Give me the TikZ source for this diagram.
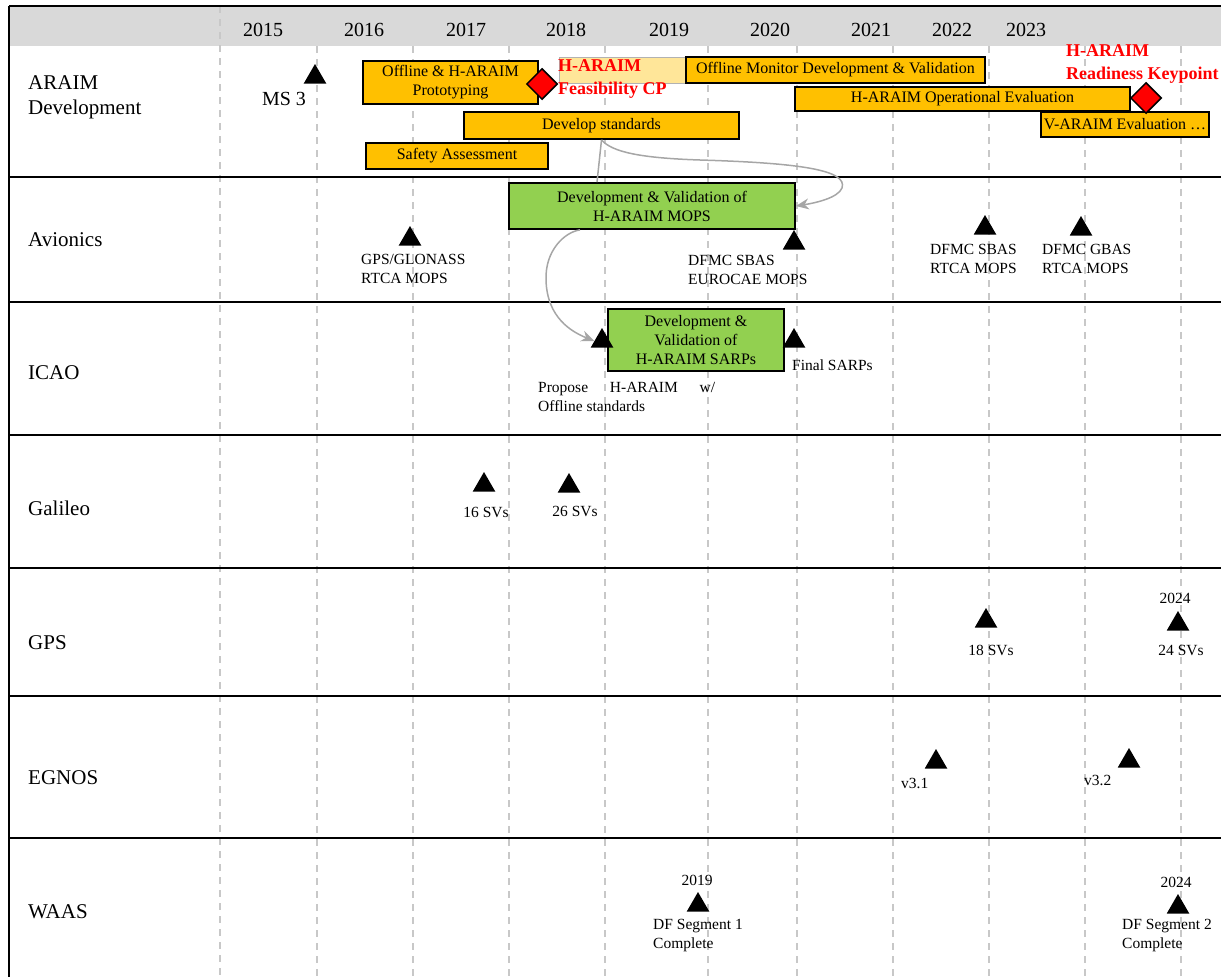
\documentclass[tikz,border=0pt]{standalone}
\usepackage{fontspec}
\setmainfont{Liberation Serif}
\usetikzlibrary{shapes.geometric, arrows.meta, positioning}

\definecolor{barorange}{HTML}{FFC000}
\definecolor{bargreen}{HTML}{92D050}
\definecolor{lightbar}{HTML}{FFE699}
\definecolor{headgray}{HTML}{D9D9D9}
\definecolor{gridgray}{HTML}{C8C8C8}
\definecolor{arrowgray}{HTML}{A6A6A6}

\begin{document}
\begin{tikzpicture}[x=1pt, y=-1pt,
    bar/.style={draw=black, line width=1.8pt, fill=barorange, inner sep=1pt,
        align=center, font=\fontsize{16}{19}\selectfont},
    greenbar/.style={bar, fill=bargreen},
    mstone/.style={regular polygon, regular polygon sides=3, fill=black,
        inner sep=0pt, minimum size=26pt},
    keypt/.style={diamond, aspect=1, draw=black, line width=1.5pt, fill=red,
        inner sep=0pt, minimum width=31pt, minimum height=31pt},
    note/.style={inner sep=0pt, align=left, font=\fontsize{15.5}{19}\selectfont},
    rowname/.style={anchor=west, inner sep=0pt, align=left,
        font=\fontsize{21}{25}\selectfont},
    yearlbl/.style={inner sep=0pt, font=\fontsize{20}{24}\selectfont},
    redtext/.style={anchor=west, inner sep=0pt, align=left, text=red,
        font=\bfseries\fontsize{18}{23}\selectfont},
    linkline/.style={draw=arrowgray, line width=1.5pt},
    link/.style={linkline, -{Stealth[length=13pt, width=11pt]}}
    ]
    \useasboundingbox (0,0) rectangle (1221,977);
    \clip (0,0) rectangle (1221,977);

    % Header
    \fill[headgray] (10,6) rectangle (1221,46);
    \draw[gridgray, line width=1.2pt, dash pattern=on 7pt off 6pt] (220,6) -- (220,977);
    \foreach \x in {317,413,509,605,708,797,893,989,1085,1181}
        \draw[gridgray, line width=1.2pt, dash pattern=on 7pt off 6pt] (\x,46) -- (\x,977);
    \foreach \x/\yr in {263/2015,364/2016,466/2017,566/2018,669/2019,
                        770/2020,871/2021,952/2022,1026/2023}
        \node[yearlbl] (y\yr) at (\x,29.5) {\yr};

    % Frame and rows
    \draw[line width=1.5pt] (9,6) -- (1221,6);
    \draw[line width=1.5pt] (9,6) -- (9,977);
    \foreach \y in {177,302,435,568,696,838}
        \draw[line width=2pt] (9,\y) -- (1221,\y);

    \node[rowname] (araim) at (28,97.5) {ARAIM\\Development};
    \node[rowname] (avionics) at (28,240) {Avionics};
    \node[rowname] (icao) at (28,373) {ICAO};
    \node[rowname] (galileo) at (28,508) {Galileo};
    \node[rowname] (gps) at (28,643) {GPS};
    \node[rowname] (egnos) at (28,778) {EGNOS};
    \node[rowname] (waas) at (28,912) {WAAS};

    % ARAIM development
    \node[mstone] (ms3) at (315,77) {};
    \node[inner sep=0pt, font=\fontsize{20}{24}\selectfont] (ms3lbl) at (284,99) {MS 3};
    \node[bar, minimum width=175pt, minimum height=43pt] (proto) at (450.5,82.5)
        {Offline \& H-ARAIM\\Prototyping};
    \node[bar, minimum width=275pt, minimum height=27pt] (devstd) at (601.5,125.5)
        {Develop standards};
    \node[bar, minimum width=182pt, minimum height=26pt] (safety) at (457,156)
        {Safety Assessment};
    \node[draw=gray!60, fill=lightbar, inner sep=0pt, minimum width=127pt,
        minimum height=26pt] (feasbg) at (622.5,70) {};
    \node[bar, minimum width=299pt, minimum height=26pt] (offmon) at (835.5,70)
        {Offline Monitor Development \& Validation};
    \node[bar, minimum width=335pt, minimum height=24pt] (opeval) at (962.5,99)
        {H-ARAIM Operational Evaluation};
    \node[bar, minimum width=168pt, minimum height=25pt] (varaim) at (1125,124.5)
        {V-ARAIM Evaluation …};
    \node[keypt] (feascp) at (542,84) {};
    \node[keypt] (readykp) at (1146,98) {};
    \node[redtext] (feaslbl) at (558,78.5) {H-ARAIM\\Feasibility CP};
    \node[redtext] (readylbl) at (1066,64) {H-ARAIM\\Readiness Keypoint};

    % Avionics
    \node[greenbar, minimum width=286pt, minimum height=46pt] (mops) at (652,206)
        {Development \& Validation of\\H-ARAIM MOPS};
    \node[mstone] (gpsglo) at (410,239) {};
    \node[mstone] (sbaseu) at (794,243) {};
    \node[mstone] (sbasrtca) at (985,228) {};
    \node[mstone] (gbasrtca) at (1081,229) {};
    \node[note, anchor=west] (gpsglolbl) at (361,268.5) {GPS/GLONASS\\RTCA MOPS};
    \node[note, anchor=west] (sbaseulbl) at (688,270) {DFMC SBAS\\EUROCAE MOPS};
    \node[note, anchor=west] (sbasrtcalbl) at (930,258.5) {DFMC SBAS\\RTCA MOPS};
    \node[note, anchor=west] (gbasrtcalbl) at (1042,258.5) {DFMC GBAS\\RTCA MOPS};

    % ICAO
    \node[greenbar, minimum width=176pt, minimum height=62pt] (sarps) at (696,340)
        {Development \&\\Validation of\\H-ARAIM SARPs};
    \node[mstone] (icaoa) at (602,341) {};
    \node[mstone] (icaob) at (794,341) {};
    \node[note, anchor=west] (finallbl) at (792,365) {Final SARPs};
    \node[note, anchor=west] (proposelbl) at (538,397)
        {\makebox[177pt][s]{Propose H-ARAIM w/}\\Offline standards};

    % Galileo
    \node[mstone] (gal16) at (484,485) {};
    \node[mstone] (gal26) at (569,486) {};
    \node[note] (gal16lbl) at (486,512) {16 SVs};
    \node[note] (gal26lbl) at (575,511) {26 SVs};

    % GPS
    \node[mstone] (gps18) at (986,621) {};
    \node[mstone] (gps24) at (1178,624) {};
    \node[note] (gps18lbl) at (991,650) {18 SVs};
    \node[note] (gps24yr) at (1175,598) {2024};
    \node[note] (gps24lbl) at (1181,650) {24 SVs};

    % EGNOS
    \node[mstone] (egv31) at (936,762) {};
    \node[mstone] (egv32) at (1129,761) {};
    \node[note, anchor=west] (egv31lbl) at (901,783) {v3.1};
    \node[note, anchor=west] (egv32lbl) at (1084,780) {v3.2};

    % WAAS
    \node[mstone] (waas19) at (698,905) {};
    \node[mstone] (waas24) at (1178,907) {};
    \node[note] (waas19yr) at (697,880) {2019};
    \node[note] (waas24yr) at (1176,882) {2024};
    \node[note, anchor=west] (waas19lbl) at (653,935.5) {DF Segment 1\\Complete};
    \node[note, anchor=west] (waas24lbl) at (1122,935.5) {DF Segment 2\\Complete};

    % Links
    \draw[linkline] (devstd.south) -- ([xshift=-55pt]mops.north);
    \draw[link] (devstd.south) .. controls (612,152) and (640,158) .. (700,160)
        .. controls (800,163) and (848,170) .. (842,188)
        .. controls (838,198) and (815,203) .. (mops.east);
    \draw[link] ([xshift=-72pt]mops.south) .. controls (565,232) and (545,250) .. (546,280)
        .. controls (547,318) and (572,332) .. (icaoa.west);
\end{tikzpicture}
\end{document}
